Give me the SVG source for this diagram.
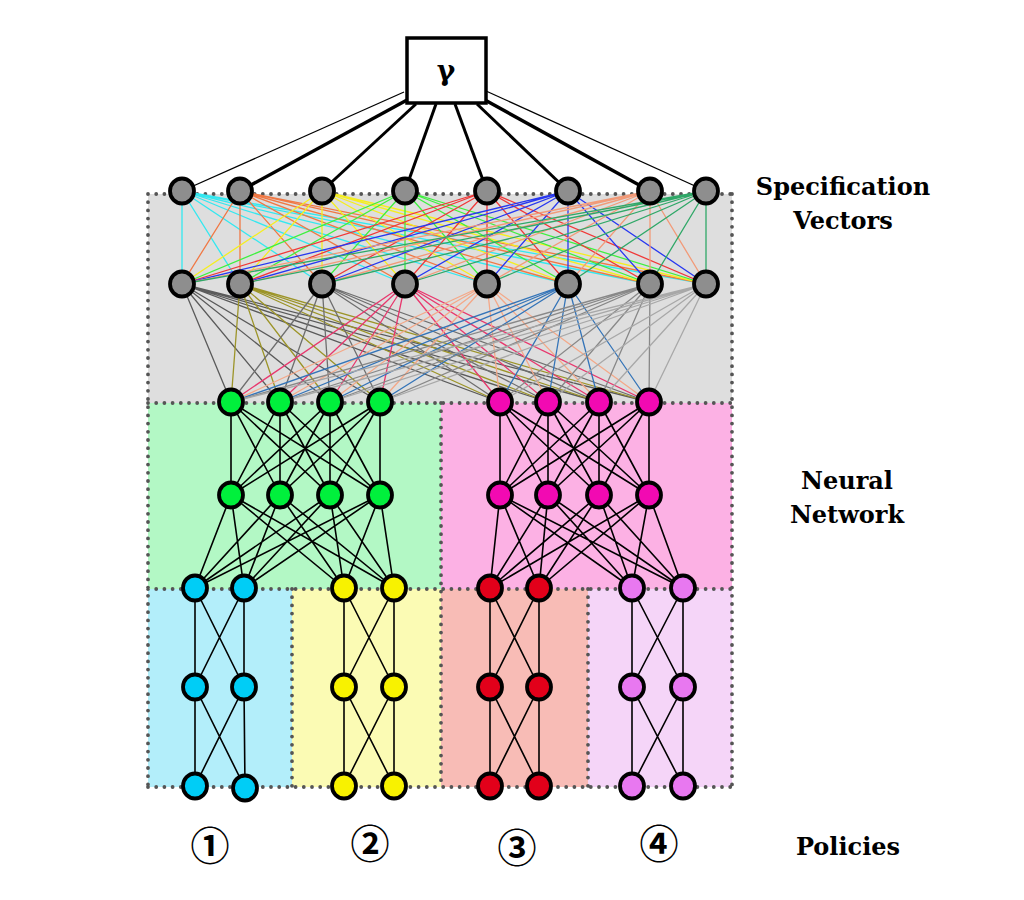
<svg xmlns="http://www.w3.org/2000/svg" width="1024" height="900" viewBox="0 0 1024 900">
<style>
.n{stroke:#000;stroke-width:3.8}
.sv{fill:#8e8e8e}.gr{fill:#00f03c}.pk{fill:#f20ab2}.cy{fill:#00cdf6}.ye{fill:#f8f200}.rd{fill:#e2001a}.vi{fill:#e878f0}
.dot{stroke:#555;stroke-width:3.8;stroke-dasharray:0 8.2;stroke-linecap:round;fill:none}
.c{fill:none;stroke-width:1.3}
.k{fill:none;stroke:#000;stroke-width:1.6}
.lbl{font-family:"DejaVu Serif","Liberation Serif",serif;font-weight:bold;font-size:24px;fill:#000;text-anchor:middle}
.num{font-family:"Noto Sans CJK JP","DejaVu Sans",sans-serif;font-weight:bold;font-size:39px;fill:#000;text-anchor:middle}
</style>
<rect width="1024" height="900" fill="#fff"/>
<g id="regions">
<rect x="148" y="194" width="584" height="209" fill="#dedede"/>
<rect x="148" y="403" width="293" height="186" fill="#b3f8c5"/>
<rect x="441" y="403" width="291" height="186" fill="#fcb1e4"/>
<rect x="148" y="589" width="144" height="198" fill="#b3eefa"/>
<rect x="292" y="589" width="149" height="198" fill="#fbfbb4"/>
<rect x="441" y="589" width="147" height="198" fill="#f8bcb6"/>
<rect x="588" y="589" width="144" height="198" fill="#f5d5f8"/>
<path class="dot" d="M148 194H732M148 403H732M148 589H732M148 787H732M148 194V787M732 194V787M441 403V787M292 589V787M588 589V787"/>
</g>
<g id="connectors">
<g id="gamma-links" stroke="#000" fill="none">
<line x1="404" y1="92" x2="182" y2="191" stroke-width="1.3"/>
<line x1="407" y1="100" x2="240" y2="191" stroke-width="3.4"/>
<line x1="416" y1="104" x2="322" y2="191" stroke-width="3"/>
<line x1="436" y1="104" x2="405" y2="191" stroke-width="3"/>
<line x1="455" y1="104" x2="487" y2="191" stroke-width="3"/>
<line x1="477" y1="104" x2="568" y2="191" stroke-width="3"/>
<line x1="485" y1="100" x2="650" y2="191" stroke-width="3.4"/>
<line x1="486" y1="91" x2="706" y2="191" stroke-width="1.3"/>
</g>
<g id="spec-links">
<path class="c" stroke="#33e8f0" d="M182 191L182 284M182 191L240 284M182 191L322 284M182 191L405 284M182 191L487 284M182 191L568 284M182 191L650 284M182 191L706 284"/>
<path class="c" stroke="#f07844" d="M240 191L182 284M240 191L240 284M240 191L322 284M240 191L405 284M240 191L487 284M240 191L568 284M240 191L650 284M240 191L706 284"/>
<path class="c" stroke="#f5ee20" d="M322 191L182 284M322 191L240 284M322 191L322 284M322 191L405 284M322 191L487 284M322 191L568 284M322 191L650 284M322 191L706 284"/>
<path class="c" stroke="#3ef03e" d="M405 191L182 284M405 191L240 284M405 191L322 284M405 191L405 284M405 191L487 284M405 191L568 284M405 191L650 284M405 191L706 284"/>
<path class="c" stroke="#f03838" d="M487 191L182 284M487 191L240 284M487 191L322 284M487 191L405 284M487 191L487 284M487 191L568 284M487 191L650 284M487 191L706 284"/>
<path class="c" stroke="#2838f0" d="M568 191L182 284M568 191L240 284M568 191L322 284M568 191L405 284M568 191L487 284M568 191L568 284M568 191L650 284M568 191L706 284"/>
<path class="c" stroke="#f29a78" d="M650 191L182 284M650 191L240 284M650 191L322 284M650 191L405 284M650 191L487 284M650 191L568 284M650 191L650 284M650 191L706 284"/>
<path class="c" stroke="#30a868" d="M706 191L182 284M706 191L240 284M706 191L322 284M706 191L405 284M706 191L487 284M706 191L568 284M706 191L650 284M706 191L706 284"/>
</g>
<g id="spec-nn-links">
<path class="c" stroke="#5a5a5a" d="M182 284L231 402M182 284L280 402M182 284L330 402M182 284L380 402M182 284L500 402M182 284L548 402M182 284L599 402M182 284L649 402"/>
<path class="c" stroke="#9c9428" d="M240 284L231 402M240 284L280 402M240 284L330 402M240 284L380 402M240 284L500 402M240 284L548 402M240 284L599 402M240 284L649 402"/>
<path class="c" stroke="#6e6e6e" d="M322 284L231 402M322 284L280 402M322 284L330 402M322 284L380 402M322 284L500 402M322 284L548 402M322 284L599 402M322 284L649 402"/>
<path class="c" stroke="#e8386e" d="M405 284L231 402M405 284L280 402M405 284L330 402M405 284L380 402M405 284L500 402M405 284L548 402M405 284L599 402M405 284L649 402"/>
<path class="c" stroke="#f4a888" d="M487 284L231 402M487 284L280 402M487 284L330 402M487 284L380 402M487 284L500 402M487 284L548 402M487 284L599 402M487 284L649 402"/>
<path class="c" stroke="#3474b8" d="M568 284L231 402M568 284L280 402M568 284L330 402M568 284L380 402M568 284L500 402M568 284L548 402M568 284L599 402M568 284L649 402"/>
<path class="c" stroke="#888" d="M650 284L231 402M650 284L280 402M650 284L330 402M650 284L380 402M650 284L500 402M650 284L548 402M650 284L599 402M650 284L649 402"/>
<path class="c" stroke="#a8a8a8" d="M706 284L231 402M706 284L280 402M706 284L330 402M706 284L380 402M706 284L500 402M706 284L548 402M706 284L599 402M706 284L649 402"/>
</g>
<g id="nn-links">
<path class="k" d="M231 402L231 495M231 402L280 495M231 402L330 495M231 402L380 495M280 402L231 495M280 402L280 495M280 402L330 495M280 402L380 495M330 402L231 495M330 402L280 495M330 402L330 495M330 402L380 495M380 402L231 495M380 402L280 495M380 402L330 495M380 402L380 495"/>
<path class="k" d="M231 495L195 588M231 495L244 588M231 495L344 588M231 495L394 588M280 495L195 588M280 495L244 588M280 495L344 588M280 495L394 588M330 495L195 588M330 495L244 588M330 495L344 588M330 495L394 588M380 495L195 588M380 495L244 588M380 495L344 588M380 495L394 588"/>
<path class="k" d="M500 402L500 495M500 402L548 495M500 402L599 495M500 402L649 495M548 402L500 495M548 402L548 495M548 402L599 495M548 402L649 495M599 402L500 495M599 402L548 495M599 402L599 495M599 402L649 495M649 402L500 495M649 402L548 495M649 402L599 495M649 402L649 495"/>
<path class="k" d="M500 495L490 588M500 495L539 588M500 495L632 588M500 495L683 588M548 495L490 588M548 495L539 588M548 495L632 588M548 495L683 588M599 495L490 588M599 495L539 588M599 495L632 588M599 495L683 588M649 495L490 588M649 495L539 588M649 495L632 588M649 495L683 588"/>
</g>
<g id="policy-links">
<path class="k" d="M195 588L195 687M195 588L244 687M244 588L195 687M244 588L244 687M195 687L195 786M195 687L245 788M244 687L195 786M244 687L245 788"/>
<path class="k" d="M344 588L344 687M344 588L394 687M394 588L344 687M394 588L394 687M344 687L344 786M344 687L394 786M394 687L344 786M394 687L394 786"/>
<path class="k" d="M490 588L490 687M490 588L539 687M539 588L490 687M539 588L539 687M490 687L490 786M490 687L539 786M539 687L490 786M539 687L539 786"/>
<path class="k" d="M632 588L632 687M632 588L683 687M683 588L632 687M683 588L683 687M632 687L632 786M632 687L683 786M683 687L632 786M683 687L683 786"/>
</g>
</g>
<g id="gamma"><rect x="407" y="38" width="79" height="65" fill="#fff" stroke="#000" stroke-width="3.5"/><text x="446" y="80" font-family="DejaVu Serif, serif" font-weight="bold" font-size="28" text-anchor="middle">γ</text></g>
<g id="spec-top">
<g id="s1"><ellipse class="n sv" cx="182" cy="191" rx="12" ry="12.5"/></g>
<g id="s2"><ellipse class="n sv" cx="240" cy="191" rx="12" ry="12.5"/></g>
<g id="s3"><ellipse class="n sv" cx="322" cy="191" rx="12" ry="12.5"/></g>
<g id="s4"><ellipse class="n sv" cx="405" cy="191" rx="12" ry="12.5"/></g>
<g id="s5"><ellipse class="n sv" cx="487" cy="191" rx="12" ry="12.5"/></g>
<g id="s6"><ellipse class="n sv" cx="568" cy="191" rx="12" ry="12.5"/></g>
<g id="s7"><ellipse class="n sv" cx="650" cy="191" rx="12" ry="12.5"/></g>
<g id="s8"><ellipse class="n sv" cx="706" cy="191" rx="12" ry="12.5"/></g>
</g>
<g id="spec-bottom">
<g id="t1"><ellipse class="n sv" cx="182" cy="284" rx="12" ry="12.5"/></g>
<g id="t2"><ellipse class="n sv" cx="240" cy="284" rx="12" ry="12.5"/></g>
<g id="t3"><ellipse class="n sv" cx="322" cy="284" rx="12" ry="12.5"/></g>
<g id="t4"><ellipse class="n sv" cx="405" cy="284" rx="12" ry="12.5"/></g>
<g id="t5"><ellipse class="n sv" cx="487" cy="284" rx="12" ry="12.5"/></g>
<g id="t6"><ellipse class="n sv" cx="568" cy="284" rx="12" ry="12.5"/></g>
<g id="t7"><ellipse class="n sv" cx="650" cy="284" rx="12" ry="12.5"/></g>
<g id="t8"><ellipse class="n sv" cx="706" cy="284" rx="12" ry="12.5"/></g>
</g>
<g id="nn-green">
<g id="g1"><ellipse class="n gr" cx="231" cy="402" rx="12" ry="12.5"/></g>
<g id="g2"><ellipse class="n gr" cx="280" cy="402" rx="12" ry="12.5"/></g>
<g id="g3"><ellipse class="n gr" cx="330" cy="402" rx="12" ry="12.5"/></g>
<g id="g4"><ellipse class="n gr" cx="380" cy="402" rx="12" ry="12.5"/></g>
<g id="g5"><ellipse class="n gr" cx="231" cy="495" rx="12" ry="12.5"/></g>
<g id="g6"><ellipse class="n gr" cx="280" cy="495" rx="12" ry="12.5"/></g>
<g id="g7"><ellipse class="n gr" cx="330" cy="495" rx="12" ry="12.5"/></g>
<g id="g8"><ellipse class="n gr" cx="380" cy="495" rx="12" ry="12.5"/></g>
</g>
<g id="nn-pink">
<g id="p1"><ellipse class="n pk" cx="500" cy="402" rx="12" ry="12.5"/></g>
<g id="p2"><ellipse class="n pk" cx="548" cy="402" rx="12" ry="12.5"/></g>
<g id="p3"><ellipse class="n pk" cx="599" cy="402" rx="12" ry="12.5"/></g>
<g id="p4"><ellipse class="n pk" cx="649" cy="402" rx="12" ry="12.5"/></g>
<g id="p5"><ellipse class="n pk" cx="500" cy="495" rx="12" ry="12.5"/></g>
<g id="p6"><ellipse class="n pk" cx="548" cy="495" rx="12" ry="12.5"/></g>
<g id="p7"><ellipse class="n pk" cx="599" cy="495" rx="12" ry="12.5"/></g>
<g id="p8"><ellipse class="n pk" cx="649" cy="495" rx="12" ry="12.5"/></g>
</g>
<g id="policy1">
<g id="c1"><ellipse class="n cy" cx="195" cy="588" rx="12" ry="12.5"/></g>
<g id="c2"><ellipse class="n cy" cx="244" cy="588" rx="12" ry="12.5"/></g>
<g id="c3"><ellipse class="n cy" cx="195" cy="687" rx="12" ry="12.5"/></g>
<g id="c4"><ellipse class="n cy" cx="244" cy="687" rx="12" ry="12.5"/></g>
<g id="c5"><ellipse class="n cy" cx="195" cy="786" rx="12" ry="12.5"/></g>
<g id="c6"><ellipse class="n cy" cx="245" cy="788" rx="12" ry="12.5"/></g>
</g>
<g id="policy2">
<g id="y1"><ellipse class="n ye" cx="344" cy="588" rx="12" ry="12.5"/></g>
<g id="y2"><ellipse class="n ye" cx="394" cy="588" rx="12" ry="12.5"/></g>
<g id="y3"><ellipse class="n ye" cx="344" cy="687" rx="12" ry="12.5"/></g>
<g id="y4"><ellipse class="n ye" cx="394" cy="687" rx="12" ry="12.5"/></g>
<g id="y5"><ellipse class="n ye" cx="344" cy="786" rx="12" ry="12.5"/></g>
<g id="y6"><ellipse class="n ye" cx="394" cy="786" rx="12" ry="12.5"/></g>
</g>
<g id="policy3">
<g id="r1"><ellipse class="n rd" cx="490" cy="588" rx="12" ry="12.5"/></g>
<g id="r2"><ellipse class="n rd" cx="539" cy="588" rx="12" ry="12.5"/></g>
<g id="r3"><ellipse class="n rd" cx="490" cy="687" rx="12" ry="12.5"/></g>
<g id="r4"><ellipse class="n rd" cx="539" cy="687" rx="12" ry="12.5"/></g>
<g id="r5"><ellipse class="n rd" cx="490" cy="786" rx="12" ry="12.5"/></g>
<g id="r6"><ellipse class="n rd" cx="539" cy="786" rx="12" ry="12.5"/></g>
</g>
<g id="policy4">
<g id="v1"><ellipse class="n vi" cx="632" cy="588" rx="12" ry="12.5"/></g>
<g id="v2"><ellipse class="n vi" cx="683" cy="588" rx="12" ry="12.5"/></g>
<g id="v3"><ellipse class="n vi" cx="632" cy="687" rx="12" ry="12.5"/></g>
<g id="v4"><ellipse class="n vi" cx="683" cy="687" rx="12" ry="12.5"/></g>
<g id="v5"><ellipse class="n vi" cx="632" cy="786" rx="12" ry="12.5"/></g>
<g id="v6"><ellipse class="n vi" cx="683" cy="786" rx="12" ry="12.5"/></g>
</g>
<g id="labels">
<text class="lbl" x="843" y="195">Specification</text>
<text class="lbl" x="843" y="229">Vectors</text>
<text class="lbl" x="847" y="489">Neural</text>
<text class="lbl" x="847" y="523">Network</text>
<text class="lbl" x="848" y="855">Policies</text>
<text class="num" x="210" y="860">①</text>
<text class="num" x="370" y="858">②</text>
<text class="num" x="517" y="862">③</text>
<text class="num" x="659" y="858">④</text>
</g>
</svg>
